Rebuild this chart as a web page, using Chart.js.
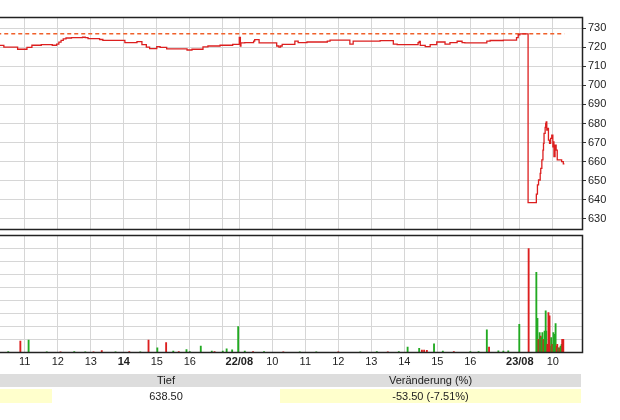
<!DOCTYPE html>
<html>
<head>
<meta charset="utf-8">
<script src="https://cdn.jsdelivr.net/npm/chart.js@4.4.1/dist/chart.umd.min.js"></script>
<style>
  html, body { margin: 0; padding: 0; background: #fff; }
  body { width: 620px; height: 420px; position: relative; overflow: hidden;
         font-family: 'Liberation Sans', Arial, sans-serif; }
  #priceBox { position: absolute; left: 0; top: 0; width: 620px; height: 231px; }
  #volBox   { position: absolute; left: 0; top: 230px; width: 620px; height: 142px; }
  table.quote { position: absolute; left: 0; top: 372px; width: 581px;
                border-collapse: separate; border-spacing: 0 2px;
                font-size: 11px; color: #222; }
  table.quote td { padding: 0; text-align: center; line-height: 13px; }
  table.quote tr.head td { background: #dddddd; height: 13px; }
  table.quote tr.vals td { height: 14px; }
  table.quote td.hl { background: #ffffcc; }
</style>
</head>
<body>
<div id="priceBox"><canvas id="priceChart"></canvas></div>
<div id="volBox"><canvas id="volChart"></canvas></div>
<table class="quote">
  <tr class="head"><td style="width:52px"></td><td style="width:228px">Tief</td><td>Veränderung (%)</td></tr>
  <tr class="vals"><td class="hl"></td><td>638.50</td><td class="hl">-53.50 (-7.51%)</td></tr>
</table>

<script>
// ── DATA ─────────────────────────────────────────────────────
// trading days shown and session length (09:00 - 17:30)
const dayLabels = ['21/08', '22/08', '23/08'];
const SESSION_OPEN = 9;
const SESSION_LEN = 510;          // minutes per session
const viewStart = '21/08 10:15';
const viewEnd   = '23/08 10:53';

// price: value holds from its time until the next one
const priceTimes = [
  '21/08 10:10', '21/08 10:22', '21/08 10:47', '21/08 11:04', '21/08 11:13', '21/08 11:30',
  '21/08 11:50', '21/08 11:58', '21/08 12:02', '21/08 12:06', '21/08 12:10', '21/08 12:15',
  '21/08 12:25', '21/08 12:45', '21/08 12:50', '21/08 12:55', '21/08 13:16', '21/08 13:22',
  '21/08 14:02', '21/08 14:24', '21/08 14:33', '21/08 14:41', '21/08 14:47', '21/08 15:00',
  '21/08 15:06', '21/08 15:18', '21/08 15:55', '21/08 16:04', '21/08 16:24', '21/08 16:33',
  '21/08 16:55', '21/08 17:18',
  '22/08 09:00', '22/08 09:02', '22/08 09:03', '22/08 09:10', '22/08 09:26', '22/08 09:28',
  '22/08 09:36', '22/08 10:08', '22/08 10:12', '22/08 10:15', '22/08 10:18', '22/08 10:41',
  '22/08 10:47', '22/08 11:03', '22/08 11:40', '22/08 11:45', '22/08 12:21', '22/08 12:27',
  '22/08 13:16', '22/08 13:40', '22/08 13:47', '22/08 14:25', '22/08 14:27', '22/08 14:29',
  '22/08 14:38', '22/08 14:47', '22/08 14:59', '22/08 15:14', '22/08 15:23', '22/08 15:36',
  '22/08 15:45', '22/08 15:50', '22/08 16:30', '22/08 16:36', '22/08 17:00', '22/08 17:24',
  '22/08 17:27',
  '23/08 09:00', '23/08 09:15', '23/08 09:30', '23/08 09:32', '23/08 09:34', '23/08 09:37',
  '23/08 09:38', '23/08 09:40', '23/08 09:42', '23/08 09:43', '23/08 09:44', '23/08 09:46',
  '23/08 09:47', '23/08 09:48', '23/08 09:49', '23/08 09:50', '23/08 09:52', '23/08 09:54',
  '23/08 09:56', '23/08 09:58', '23/08 10:00', '23/08 10:01', '23/08 10:02', '23/08 10:04',
  '23/08 10:06', '23/08 10:08', '23/08 10:16', '23/08 10:19', '23/08 10:21'
];
const priceValues = [
  720.9, 720.0, 718.9, 719.9, 721.0, 721.3,
  721.0, 721.6, 722.6, 723.6, 724.3, 724.8,
  725.0, 725.2, 725.0, 724.5, 724.0, 723.6,
  722.4, 722.9, 721.3, 720.0, 719.2, 720.3,
  719.9, 719.1, 718.5, 718.9, 720.1, 720.6,
  721.0, 721.5,
  725.1, 720.6, 722.2, 722.4, 723.2, 723.9,
  722.2, 720.6, 720.0, 720.6, 721.5, 723.2,
  722.4, 722.7, 723.2, 723.7, 721.6, 723.2,
  723.4, 721.6, 721.3, 722.4, 723.0, 720.9,
  720.3, 721.3, 722.7, 721.6, 722.4, 723.1,
  722.4, 722.2, 723.2, 723.5, 723.7, 725.0,
  726.5,
  727.0, 638.5, 643.0, 647.8, 650.4, 653.9,
  656.5, 660.9, 666.0, 669.6, 674.8, 678.0,
  680.0, 680.9, 676.5, 677.4, 671.3, 669.6,
  672.2, 673.9, 667.8, 670.4, 662.6, 668.7,
  666.1, 660.9, 660.0, 658.8, 658.8
];
const refLevel = 727;             // dashed reference line

// volume: u = up tick (green), d = down tick (red)
const volTimes = [
  '21/08 10:30', '21/08 10:52', '21/08 11:07', '21/08 11:40', '21/08 12:05', '21/08 12:30',
  '21/08 12:50', '21/08 13:05', '21/08 13:20', '21/08 13:45', '21/08 14:10', '21/08 14:30',
  '21/08 14:45', '21/08 15:01', '21/08 15:17', '21/08 15:30', '21/08 15:40', '21/08 15:54',
  '21/08 16:00', '21/08 16:20', '21/08 16:40', '21/08 16:45', '21/08 17:00', '21/08 17:07',
  '21/08 17:17', '21/08 17:28',
  '22/08 09:10', '22/08 09:25', '22/08 09:45', '22/08 10:20', '22/08 10:50', '22/08 11:20',
  '22/08 12:00', '22/08 12:40', '22/08 13:10', '22/08 13:30', '22/08 13:50', '22/08 14:06',
  '22/08 14:27', '22/08 14:32', '22/08 14:36', '22/08 14:41', '22/08 14:54', '22/08 15:10',
  '22/08 15:30', '22/08 16:00', '22/08 16:15', '22/08 16:30', '22/08 16:34', '22/08 16:51',
  '22/08 17:00', '22/08 17:09', '22/08 17:29',
  '23/08 09:16', '23/08 09:30', '23/08 09:32', '23/08 09:34', '23/08 09:36', '23/08 09:38',
  '23/08 09:39', '23/08 09:41', '23/08 09:43', '23/08 09:45', '23/08 09:47', '23/08 09:48',
  '23/08 09:50', '23/08 09:52', '23/08 09:54', '23/08 09:56', '23/08 09:57', '23/08 09:59',
  '23/08 10:01', '23/08 10:03', '23/08 10:05', '23/08 10:07', '23/08 10:08', '23/08 10:10',
  '23/08 10:12', '23/08 10:14', '23/08 10:16', '23/08 10:17', '23/08 10:19'
];
const volValues = [
  1000, 8900, 9600, 800, 700, 900,
  800, 800, 1700, 700, 900, 800,
  9600, 3800, 7600, 1200, 900, 2500,
  1000, 5100, 1300, 1000, 1200, 3000,
  2300, 19700,
  1200, 900, 1000, 800, 700, 800,
  700, 700, 900, 800, 1000, 4300,
  3300, 2000, 2000, 1900, 6800, 1200,
  900, 1000, 900, 17200, 4300, 1500,
  1300, 1500, 21400,
  78300, 60600, 26000, 10100, 15200, 12600,
  11400, 15200, 10100, 16400, 31600, 16400,
  6300, 30300, 27800, 5100, 11400, 6300,
  15200, 13900, 22000, 5100, 6300, 3800,
  3800, 5100, 6300, 10100, 10100
];
const volSide = [
  'u', 'd', 'u', 'u', 'd', 'u',
  'u', 'd', 'd', 'u', 'd', 'u',
  'd', 'u', 'd', 'u', 'd', 'u',
  'u', 'u', 'u', 'd', 'u', 'u',
  'u', 'u',
  'u', 'd', 'u', 'd', 'u', 'u',
  'd', 'u', 'u', 'd', 'u', 'u',
  'u', 'd', 'd', 'd', 'u', 'u',
  'd', 'u', 'u', 'u', 'd', 'u',
  'u', 'u', 'u',
  'd', 'u', 'u', 'd', 'u', 'd',
  'u', 'u', 'd', 'u', 'u', 'u',
  'd', 'd', 'd', 'd', 'u', 'd',
  'u', 'u', 'u', 'd', 'd', 'u',
  'd', 'u', 'u', 'd', 'd'
];

// ── HELPERS ──────────────────────────────────────────────────
// continuous trading minutes (overnight gaps removed)
function toMin(stamp) {
  const [day, time] = stamp.split(' ');
  const [h, m] = time.split(':').map(Number);
  return dayLabels.indexOf(day) * SESSION_LEN + (h - SESSION_OPEN) * 60 + m;
}

const xMin = toMin(viewStart);
const xMax = toMin(viewEnd);

// one grid line per full hour, day label at the session open, none at 17:00
const hourTicks = [];
dayLabels.forEach((d, i) => {
  for (let h = SESSION_OPEN; h <= 17; h++) {
    hourTicks.push({
      value: i * SESSION_LEN + (h - SESSION_OPEN) * 60,
      label: h === SESSION_OPEN ? d : (h === 17 ? '' : String(h)),
      bold: h === SESSION_OPEN || (i === 0 && h === 14)
    });
  }
});
const visibleTicks = hourTicks.filter(t => t.value >= xMin && t.value <= xMax);
const tickByValue = new Map(visibleTicks.map(t => [t.value, t]));

const FONT = "'Liberation Sans', Arial, sans-serif";
const GRID = '#d6d6d6';
const RED = '#dc1f1f';
const GREEN = '#22aa22';

Chart.defaults.font.family = FONT;
Chart.defaults.font.size = 11;
Chart.defaults.color = '#222';

// frame on top, right and bottom (left edge is cut off)
const framePlugin = {
  id: 'frame',
  afterDraw(chart) {
    const { ctx, chartArea: a } = chart;
    const t = Math.round(a.top) + 0.5;
    const r = Math.round(a.right) + 0.5;
    const b = Math.round(a.bottom) - 0.5;
    ctx.save();
    ctx.strokeStyle = '#222';
    ctx.lineWidth = 1.5;
    ctx.beginPath();
    ctx.moveTo(a.left, t);
    ctx.lineTo(r, t);
    ctx.lineTo(r, b);
    ctx.lineTo(a.left, b);
    ctx.stroke();
    ctx.restore();
  }
};

// right-hand value axis with a fixed width and no label overhang padding
function fitRight(s) {
  s.width = 38;
  s.paddingTop = 0;
  s.paddingBottom = 0;
}

function timeAxis(showLabels) {
  return {
    type: 'linear',
    min: xMin,
    max: xMax,
    offset: false,
    afterBuildTicks: s => { s.ticks = visibleTicks.map(t => ({ value: t.value })); },
    grid: { color: GRID, drawTicks: false, offset: false },
    border: { display: false },
    ticks: {
      display: showLabels,
      autoSkip: false,
      maxRotation: 0,
      padding: 3,
      color: '#222',
      font: c => ({ family: FONT, size: 11,
                    weight: c.tick && tickByValue.get(c.tick.value) && tickByValue.get(c.tick.value).bold ? 'bold' : 'normal' }),
      callback: v => (tickByValue.get(v) || {}).label || ''
    }
  };
}

// ── PRICE CHART ──────────────────────────────────────────────
const pricePoints = priceTimes.map((t, i) => ({ x: toMin(t), y: priceValues[i] }));

new Chart(document.getElementById('priceChart'), {
  type: 'line',
  data: {
    datasets: [{
      data: pricePoints,
      borderColor: RED,
      borderWidth: 1.3,
      stepped: true,
      pointRadius: 0,
      fill: false,
      order: 1
    }, {
      data: [
        { x: pricePoints[0].x, y: refLevel },
        { x: pricePoints[pricePoints.length - 1].x, y: refLevel }
      ],
      borderColor: '#f0602a',
      borderWidth: 1.5,
      borderDash: [4, 3],
      pointRadius: 0,
      fill: false,
      order: 2
    }]
  },
  options: {
    responsive: true,
    maintainAspectRatio: false,
    devicePixelRatio: 1,
    animation: false,
    events: [],
    layout: { padding: { top: 17, bottom: 1, left: 0, right: 0 } },
    plugins: { legend: { display: false }, tooltip: { enabled: false } },
    scales: {
      x: timeAxis(false),
      y: {
        position: 'right',
        min: 624.2,
        max: 735.8,
        afterFit: fitRight,
        grid: { color: GRID, drawTicks: true, tickLength: 4, tickColor: '#333' },
        border: { display: false },
        ticks: { stepSize: 10, includeBounds: false, padding: 2, color: '#222' }
      }
    }
  },
  plugins: [framePlugin]
});

// ── VOLUME CHART ─────────────────────────────────────────────
new Chart(document.getElementById('volChart'), {
  type: 'bar',
  data: {
    datasets: [{
      data: volTimes.map((t, i) => ({ x: toMin(t), y: volValues[i] })),
      backgroundColor: volSide.map(s => s === 'u' ? GREEN : RED),
      barThickness: 1.2,
      borderWidth: 0
    }]
  },
  options: {
    responsive: true,
    maintainAspectRatio: false,
    devicePixelRatio: 1,
    animation: false,
    events: [],
    layout: { padding: { top: 5, bottom: 0, left: 0, right: 0 } },
    plugins: { legend: { display: false }, tooltip: { enabled: false } },
    scales: {
      x: timeAxis(true),
      y: {
        position: 'right',
        min: 0,
        max: 88600,
        afterFit: fitRight,
        grid: { color: GRID, drawTicks: false },
        border: { display: false },
        ticks: { display: false, stepSize: 10000, includeBounds: false }
      }
    }
  },
  plugins: [framePlugin]
});
</script>
</body>
</html>
